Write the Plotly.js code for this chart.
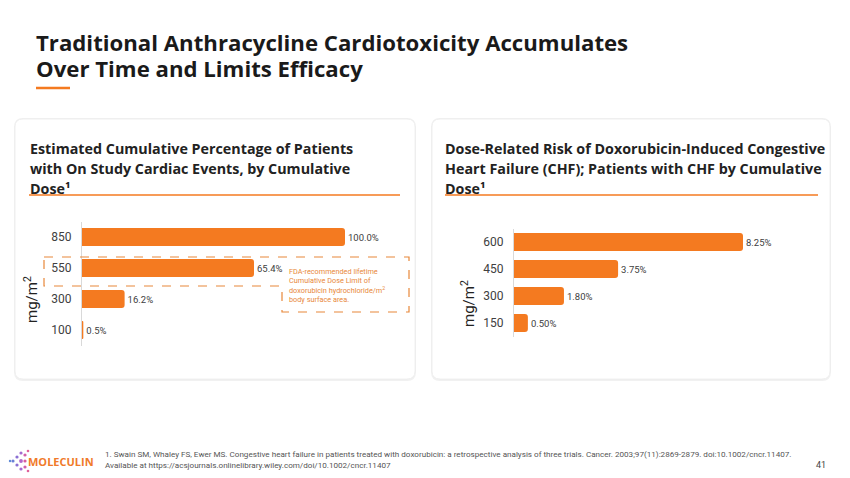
<!DOCTYPE html>
<html><head><meta charset="utf-8">
<script src="https://cdn.plot.ly/plotly-3.0.1.min.js"></script>
<style>html,body{margin:0;padding:0;background:#fff}#chart{width:850px;height:478px}</style>
</head><body><div id="chart"></div>
<script>
// ---- data ----
const leftDoses = ['100', '300', '550', '850'];
const leftPct = [0.5, 16.2, 65.4, 100.0];
const rightDoses = ['150', '300', '450', '600'];
const rightPct = [0.50, 1.80, 3.75, 8.25];

const mainTitle = ['Traditional Anthracycline Cardiotoxicity Accumulates', 'Over Time and Limits Efficacy'];
const leftTitle = ['Estimated Cumulative Percentage of Patients', 'with On Study Cardiac Events, by Cumulative', 'Dose¹'];
const rightTitle = ['Dose-Related Risk of Doxorubicin-Induced Congestive', 'Heart Failure (CHF); Patients with CHF by Cumulative', 'Dose¹'];
const fdaNote = 'FDA-recommended lifetime<br>Cumulative Dose Limit of<br>doxorubicin hydrochloride/m<sup>2</sup><br>body surface area.';
const refText = '1. Swain SM, Whaley FS, Ewer MS. Congestive heart failure in patients treated with doxorubicin: a retrospective analysis of three trials. Cancer. 2003;97(11):2869-2879. doi:10.1002/cncr.11407.<br>Available at https://acsjournals.onlinelibrary.wiley.com/doi/10.1002/cncr.11407';

// ---- helpers ----
const W = 850, H = 478;
const px = x => x / W;
const py = y => 1 - y / H;
const ORANGE = '#F47A20';
const TXT = '#404040';
const FONT = 'Roboto, "Noto Sans", sans-serif';
const HFONT = '"Open Sans", "Noto Sans", sans-serif';

function roundRect(x0, y0, x1, y1, r) {
  const P = (x, y) => px(x) + ',' + py(y);
  return 'M' + P(x0 + r, y0) + ' L' + P(x1 - r, y0) + ' Q' + P(x1, y0) + ' ' + P(x1, y0 + r) +
    ' L' + P(x1, y1 - r) + ' Q' + P(x1, y1) + ' ' + P(x1 - r, y1) +
    ' L' + P(x0 + r, y1) + ' Q' + P(x0, y1) + ' ' + P(x0, y1 - r) +
    ' L' + P(x0, y0 + r) + ' Q' + P(x0, y0) + ' ' + P(x0 + r, y0) + ' Z';
}
function poly(pts) {
  return 'M' + pts.map(p => px(p[0]) + ',' + py(p[1])).join(' L') + ' Z';
}

const barCommon = {
  type: 'bar', orientation: 'h',
  marker: { color: ORANGE, cornerradius: 3 },
  textposition: 'outside', cliponaxis: false,
  textfont: { family: FONT, size: 9.5, color: TXT },
  hoverinfo: 'skip', showlegend: false
};

const traces = [
  Object.assign({}, barCommon, {
    y: leftDoses, x: leftPct, xaxis: 'x', yaxis: 'y', width: 0.58,
    texttemplate: '%{x:.1f}%'
  }),
  Object.assign({}, barCommon, {
    y: rightDoses, x: rightPct, xaxis: 'x2', yaxis: 'y2', width: 0.67,
    texttemplate: '%{x:.2f}%'
  })
];

const yCommon = {
  type: 'category', showline: true, linecolor: '#d9d9d9', linewidth: 1,
  ticks: '', showgrid: false, zeroline: false, fixedrange: true,
  tickfont: { family: FONT, size: 12, color: TXT }, ticklabelstandoff: 7
};

const shapes = [];
// cards with faint shadow
[[15, 119, 415, 379], [432, 119, 830, 379]].forEach(c => {
  shapes.push({ type: 'path', xref: 'paper', yref: 'paper', layer: 'below',
    path: roundRect(c[0] - 1, c[1] - 1, c[2] + 1, c[3] + 2, 9), fillcolor: '#f1f1f1', line: { width: 0 } });
  shapes.push({ type: 'path', xref: 'paper', yref: 'paper', layer: 'below',
    path: roundRect(c[0], c[1], c[2], c[3], 8), fillcolor: '#ffffff', line: { color: '#ececec', width: 0.8 } });
});
// orange rules
shapes.push({ type: 'line', xref: 'paper', yref: 'paper', x0: px(36), x1: px(70), y0: py(88), y1: py(88), line: { color: ORANGE, width: 2.5 } });
shapes.push({ type: 'line', xref: 'paper', yref: 'paper', x0: px(29), x1: px(400), y0: py(195), y1: py(195), line: { color: ORANGE, width: 1.3 } });
shapes.push({ type: 'line', xref: 'paper', yref: 'paper', x0: px(445), x1: px(818), y0: py(195), y1: py(195), line: { color: ORANGE, width: 1.3 } });
// dashed FDA box
shapes.push({ type: 'path', xref: 'paper', yref: 'paper',
  path: poly([[44, 257], [409, 257], [409, 312], [282, 312], [282, 286], [44, 286]]),
  line: { color: '#E8883A', width: 1.2, dash: 'dash' } });
// logo dots
const dots = [[13, 461, '#6a7fd6', 1.6], [17, 457, '#8b6fd3', 1.6], [17, 465, '#8b6fd3', 1.6], [21, 453, '#a46ad0', 1.6],
  [21, 461, '#b267c9', 1.9], [21, 469, '#a46ad0', 1.6], [25, 455, '#d25fa8', 1.6], [25, 461, '#d85d9e', 1.6],
  [25, 467, '#d25fa8', 1.6], [28, 451, '#e0609a', 1.3], [28, 471, '#e0609a', 1.3], [10, 461, '#5f8ad8', 1.2]];
dots.forEach(d => {
  shapes.push({ type: 'circle', xref: 'paper', yref: 'paper', x0: px(d[0] - d[3]), x1: px(d[0] + d[3]),
    y0: py(d[1] + d[3]), y1: py(d[1] - d[3]), fillcolor: d[2], line: { width: 0 } });
});

const ann = (o) => Object.assign({ xref: 'paper', yref: 'paper', showarrow: false, xanchor: 'left', yanchor: 'top', align: 'left' }, o);
const annotations = [];
mainTitle.forEach((t, i) => annotations.push(ann({ x: px(34), y: py(42.5 + i * 26), yanchor: 'middle', text: '<b>' + t + '</b>',
  font: { family: HFONT, size: 22.2, color: '#1a1a1a' } })));
leftTitle.forEach((t, i) => annotations.push(ann({ x: px(28), y: py(148 + i * 20), yanchor: 'middle', text: '<b>' + t + '</b>',
  font: { family: HFONT, size: 14.3, color: '#222222' } })));
rightTitle.forEach((t, i) => annotations.push(ann({ x: px(443), y: py(148 + i * 20), yanchor: 'middle', text: '<b>' + t + '</b>',
  font: { family: HFONT, size: 14.3, color: '#222222' } })));
annotations.push(
  ann({ x: px(287), y: py(265), text: fdaNote, font: { family: FONT, size: 7.3, color: '#E8883A' } }),
  ann({ x: px(31), y: py(300), xanchor: 'center', yanchor: 'middle', textangle: -90, text: 'mg/m<sup>2</sup>', font: { family: FONT, size: 15, color: '#222222' } }),
  ann({ x: px(468), y: py(303), xanchor: 'center', yanchor: 'middle', textangle: -90, text: 'mg/m<sup>2</sup>', font: { family: FONT, size: 15, color: '#222222' } }),
  ann({ x: px(26), y: py(461), yanchor: 'middle', text: '<b>MOLECULIN</b>', font: { family: HFONT, size: 11, color: '#F07A2A' } }),
  ann({ x: px(103), y: py(447), text: refText, font: { family: FONT, size: 8.1, color: '#555555' } }),
  ann({ x: px(828), y: py(465), xanchor: 'right', yanchor: 'middle', text: '41', font: { family: FONT, size: 9, color: '#444444' } })
);

const layout = {
  width: W, height: H, margin: { l: 0, r: 0, t: 0, b: 0 },
  paper_bgcolor: '#ffffff', plot_bgcolor: 'rgba(0,0,0,0)',
  font: { family: FONT },
  xaxis: { domain: [px(82), px(345)], range: [0, 100], visible: false, fixedrange: true, anchor: 'y' },
  yaxis: Object.assign({}, yCommon, { domain: [py(345.5), py(221.5)], categoryarray: leftDoses, categoryorder: 'array', range: [-0.5, 3.5], anchor: 'x' }),
  xaxis2: { domain: [px(514), px(743)], range: [0, 8.25], visible: false, fixedrange: true, anchor: 'y2' },
  yaxis2: Object.assign({}, yCommon, { domain: [py(336.5), py(228.5)], categoryarray: rightDoses, categoryorder: 'array', range: [-0.5, 3.5], anchor: 'x2' }),
  shapes: shapes,
  annotations: annotations
};

Plotly.newPlot('chart', traces, layout, { displayModeBar: false, staticPlot: true });
</script>
</body></html>
